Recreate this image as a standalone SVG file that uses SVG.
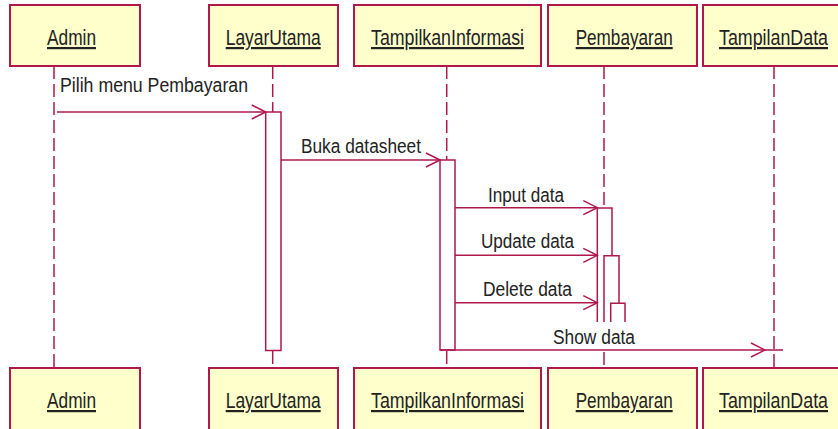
<svg xmlns="http://www.w3.org/2000/svg" width="838" height="429" viewBox="0 0 838 429">
<style>
.box{fill:#ffffcc;stroke:#b0184a;stroke-width:2}
.lbl{font-family:"Liberation Sans",Arial,sans-serif;font-size:22px;fill:#222;text-decoration:underline}
.msg{font-family:"Liberation Sans",Arial,sans-serif;font-size:20px;fill:#222}
.life{stroke:#b0184a;stroke-width:1.5;stroke-dasharray:13 5;fill:none}
.act{fill:#fff;stroke:#b0184a;stroke-width:1.5}
.m{stroke:#b0184a;stroke-width:1.5;fill:none}
</style>
<defs>
<marker id="open" markerUnits="userSpaceOnUse" markerWidth="20" markerHeight="20" viewBox="-16 -10 20 20" refX="0" refY="0" orient="auto">
<path d="M-14,-7 L0,0 L-14,7" fill="none" stroke="#b0184a" stroke-width="1.5"/>
</marker>
</defs>
<rect width="838" height="429" fill="#fff"/>
<g id="lifelines">
<line class="life" x1="54" y1="66" x2="54" y2="368"/>
<line class="life" x1="272.7" y1="66" x2="272.7" y2="112"/>
<line class="life" x1="272.7" y1="351" x2="272.7" y2="368"/>
<line class="life" x1="446.7" y1="66" x2="446.7" y2="160"/>
<line class="life" x1="446.7" y1="351" x2="446.7" y2="368"/>
<line class="life" x1="604" y1="66" x2="604" y2="208"/>
<line class="life" x1="604" y1="352" x2="604" y2="368"/>
<line class="life" x1="774" y1="66" x2="774" y2="368"/>
</g>
<g id="activations">
<rect class="act" x="265.7" y="112" width="15.3" height="238.5"/>
<rect class="act" x="440" y="160" width="15" height="190"/>
<path class="act" d="M597.3,322 V208 H612 V322"/>
<path class="act" d="M604,322 V255.7 H619 V322"/>
<path class="act" d="M610.7,322 V303.3 H625 V322"/>
</g>
<g id="node-admin-top"><rect class="box" x="10" y="5" width="130" height="61"/><text class="lbl" x="47" y="45" textLength="49" lengthAdjust="spacingAndGlyphs">Admin</text></g>
<g id="node-layarutama-top"><rect class="box" x="209" y="5" width="129" height="61"/><text class="lbl" x="225.7" y="45" textLength="95" lengthAdjust="spacingAndGlyphs">LayarUtama</text></g>
<g id="node-tampilkaninformasi-top"><rect class="box" x="354" y="5" width="187" height="61"/><text class="lbl" x="371" y="45" textLength="153" lengthAdjust="spacingAndGlyphs">TampilkanInformasi</text></g>
<g id="node-pembayaran-top"><rect class="box" x="548" y="5" width="149" height="61"/><text class="lbl" x="575.7" y="45" textLength="97" lengthAdjust="spacingAndGlyphs">Pembayaran</text></g>
<g id="node-tampilandata-top"><rect class="box" x="703" y="5" width="136" height="61"/><text class="lbl" x="719" y="45" textLength="109" lengthAdjust="spacingAndGlyphs">TampilanData</text></g>
<g id="node-admin-bottom"><rect class="box" x="10" y="368" width="130" height="70"/><text class="lbl" x="47" y="408" textLength="49" lengthAdjust="spacingAndGlyphs">Admin</text></g>
<g id="node-layarutama-bottom"><rect class="box" x="209" y="368" width="129" height="70"/><text class="lbl" x="225.7" y="408" textLength="95" lengthAdjust="spacingAndGlyphs">LayarUtama</text></g>
<g id="node-tampilkaninformasi-bottom"><rect class="box" x="354" y="368" width="187" height="70"/><text class="lbl" x="371" y="408" textLength="153" lengthAdjust="spacingAndGlyphs">TampilkanInformasi</text></g>
<g id="node-pembayaran-bottom"><rect class="box" x="548" y="368" width="149" height="70"/><text class="lbl" x="575.7" y="408" textLength="97" lengthAdjust="spacingAndGlyphs">Pembayaran</text></g>
<g id="node-tampilandata-bottom"><rect class="box" x="703" y="368" width="136" height="70"/><text class="lbl" x="719" y="408" textLength="109" lengthAdjust="spacingAndGlyphs">TampilanData</text></g>
<g id="connectors">
<line class="m" x1="57" y1="112" x2="265.7" y2="112" marker-end="url(#open)"/>
<text class="msg" x="60" y="92" textLength="188" lengthAdjust="spacingAndGlyphs">Pilih menu Pembayaran</text>
<line class="m" x1="281" y1="160" x2="440" y2="160" marker-end="url(#open)"/>
<text class="msg" x="301" y="153" textLength="120" lengthAdjust="spacingAndGlyphs">Buka datasheet</text>
<line class="m" x1="455" y1="207.7" x2="597.3" y2="207.7" marker-end="url(#open)"/>
<text class="msg" x="488" y="201.7" textLength="76" lengthAdjust="spacingAndGlyphs">Input data</text>
<line class="m" x1="455" y1="255.3" x2="597.3" y2="255.3" marker-end="url(#open)"/>
<text class="msg" x="481" y="248" textLength="93" lengthAdjust="spacingAndGlyphs">Update data</text>
<line class="m" x1="455" y1="302.7" x2="597.3" y2="302.7" marker-end="url(#open)"/>
<text class="msg" x="483" y="296" textLength="89" lengthAdjust="spacingAndGlyphs">Delete data</text>
<line class="m" x1="440" y1="350" x2="765" y2="350" marker-end="url(#open)"/>
<line class="m" x1="765" y1="350" x2="783" y2="350"/>
<text class="msg" x="553" y="344" textLength="82" lengthAdjust="spacingAndGlyphs">Show data</text>
</g>
</svg>
